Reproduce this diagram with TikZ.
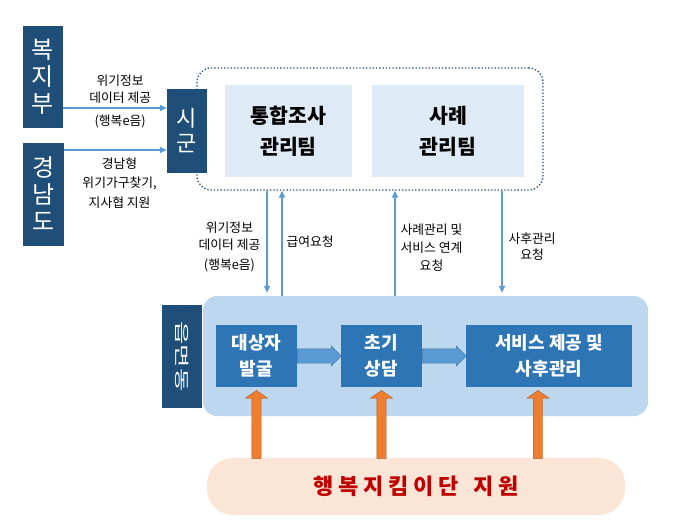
\documentclass[tikz,border=0pt]{standalone}
\usepackage{fontspec}
\setmainfont{Noto Sans CJK KR}
\usetikzlibrary{positioning, calc, arrows.meta, shapes.arrows}
\definecolor{navy}{HTML}{1F4E79}
\definecolor{procblue}{HTML}{2E75B6}
\definecolor{teamblue}{HTML}{DEEBF7}
\definecolor{areablue}{HTML}{BDD7EE}
\definecolor{lineblue}{HTML}{5B9BD5}
\definecolor{edgeblue}{HTML}{41719C}
\definecolor{peach}{HTML}{FBE5D6}
\definecolor{arrowor}{HTML}{ED7D31}
\definecolor{edgeor}{HTML}{AE5A21}
\definecolor{darkred}{HTML}{C00000}
\begin{document}
\begin{tikzpicture}[x=1pt, y=-1pt,
  navybox/.style={fill=navy, text=white, inner sep=0pt, align=center},
  teambox/.style={fill=teamblue, inner sep=0pt, align=center, minimum height=92pt, font=\fontsize{20.5}{31}\selectfont\bfseries},
  procbox/.style={fill=procblue, text=white, inner sep=0pt, align=center, minimum height=62pt, font=\fontsize{18}{26}\selectfont\bfseries},
  link/.style={-{Triangle[length=7pt,width=6pt]}, draw=lineblue, line width=1.3pt},
  lbl/.style={align=center, inner sep=1pt, font=\fontsize{12.8}{17}\selectfont},
  fatarrow/.style={single arrow, draw=edgeblue, fill=lineblue, inner sep=7pt, single arrow head extend=3pt, minimum height=44pt, anchor=tail},
  uparrow/.style={single arrow, draw=edgeor, fill=arrowor, inner sep=4.5pt, single arrow head extend=6.5pt, single arrow tip angle=110, minimum height=68pt, rotate=90, anchor=tip}]
\useasboundingbox (0,0) rectangle (689,530);

% 시군 level
\node[navybox, minimum width=40pt, minimum height=102pt, font=\fontsize{24}{27}\selectfont] (bok) at (43,77) {복\\지\\부};
\node[navybox, minimum width=41pt, minimum height=103pt, font=\fontsize{24}{27}\selectfont] (gyeong) at (43.5,194) {경\\남\\도};
\node[navybox, minimum width=40pt, minimum height=84pt, font=\fontsize{22}{25}\selectfont] (sigun) at (187,131) {시\\군};
\node[draw=navy, dotted, line width=1.3pt, rounded corners=14pt, minimum width=346pt, minimum height=122pt] (sibox) at (370,129) {};
\node[teambox, minimum width=127pt] (tonghap) at (288.5,131) {통합조사\\관리팀};
\node[teambox, minimum width=152pt] (sarye) at (448,131) {사례\\관리팀};

\coordinate (r1) at (0,108);
\coordinate (r2) at (0,150);
\draw[link] (bok.east |- r1) -- node[lbl, above=3pt, pos=.55]{위기정보\\데이터 제공} node[lbl, below=5pt, pos=.55]{(행복e음)} (sigun.west |- r1);
\draw[link] (gyeong.east |- r2) -- node[lbl, below=6pt, pos=.54, font=\fontsize{12.8}{19.5}\selectfont]{경남형\\위기가구찾기,\\지사협 지원} (sigun.west |- r2);

% 읍면동 level
\node[fill=areablue, rounded corners=14pt, minimum width=445pt, minimum height=120pt] (eupbox) at (425.5,356) {};
\node[navybox, rotate=-90, xscale=1.7, minimum width=60.6pt, minimum height=40pt, font=\fontsize{15}{18}\selectfont] (eup) at (182,356.5) {읍면동};
\node[procbox, minimum width=81pt] (balgul) at (256.5,356) {대상자\\발굴};
\node[procbox, minimum width=81pt] (sangdam) at (381.5,356) {초기\\상담};
\node[procbox, minimum width=166pt] (service) at (549,356) {서비스 제공 및\\사후관리};
\node[fatarrow] (f1) at (balgul.east) {};
\node[fatarrow] (f2) at (sangdam.east) {};

\coordinate (v1) at (267,0);
\coordinate (v2) at (282,0);
\coordinate (v3) at (395,0);
\coordinate (v4) at (502,0);
\draw[link, shorten >=3pt] (v1 |- sibox.south) -- node[lbl, left=5pt, pos=.54]{위기정보\\데이터 제공\\[3pt](행복e음)} (v1 |- eupbox.north);
\draw[link] (v2 |- eupbox.north) -- node[lbl, right=3pt, pos=.51]{급여요청} (v2 |- sibox.south);
\draw[link] (v3 |- eupbox.north) -- node[lbl, right=4pt, pos=.46, font=\fontsize{12.8}{18}\selectfont]{사례관리 및\\서비스 연계\\요청} (v3 |- sibox.south);
\draw[link, shorten >=3pt] (v4 |- sibox.south) -- node[lbl, right=5pt, pos=.53, font=\fontsize{12.8}{16}\selectfont]{사후관리\\요청} (v4 |- eupbox.north);

% 행복지킴이단
\node[fill=peach, rounded corners=26pt, minimum width=418pt, minimum height=57pt, text=darkred, font=\fontsize{22}{24}\selectfont\bfseries] (jikim) at (416,486.5) {\addfontfeature{LetterSpace=22}행복지킴이단\hspace{15pt}지원};
\node[uparrow] (o1) at ([yshift=-3pt]balgul.south) {};
\node[uparrow] (o2) at ([yshift=-3pt]sangdam.south) {};
\node[uparrow] (o3) at ([xshift=-11pt, yshift=-3pt]service.south) {};

\end{tikzpicture}
\end{document}
